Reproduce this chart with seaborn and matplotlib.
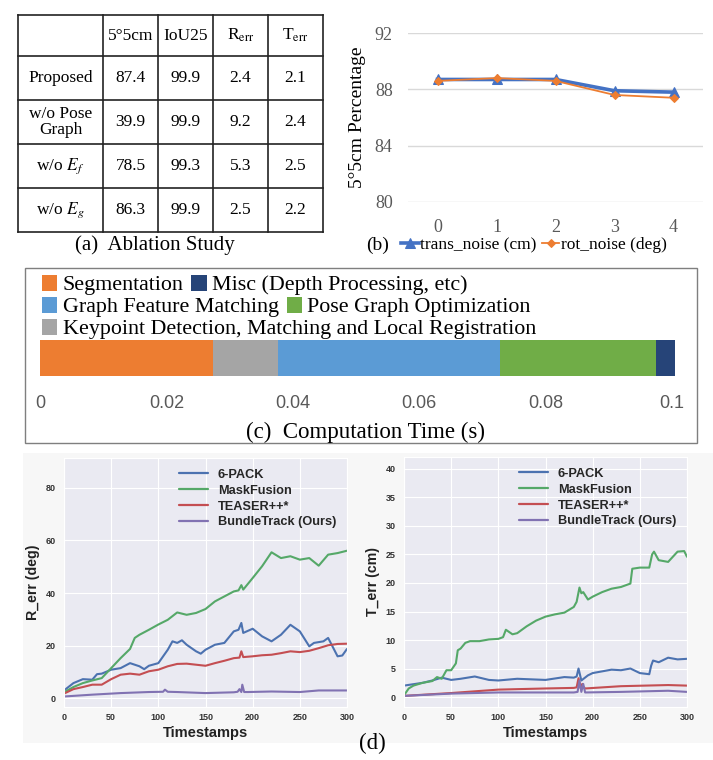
import pandas as pd
import seaborn as sns
import matplotlib.pyplot as plt
from matplotlib.patches import Rectangle, Patch
from matplotlib.lines import Line2D
from matplotlib.ticker import FuncFormatter

# (a) ablation table
table_cols = ["", "5°5cm", "IoU25", r"R$_{\rm err}$", r"T$_{\rm err}$"]
table_rows = ["Proposed", "w/o Pose\nGraph", r"w/o $E_f$", r"w/o $E_g$"]
table_vals = [["87.4", "99.9", "2.4", "2.1"],
              ["39.9", "99.9", "9.2", "2.4"],
              ["78.5", "99.3", "5.3", "2.5"],
              ["86.3", "99.9", "2.5", "2.2"]]

# (b) robustness to noise
noise_levels = [0, 1, 2, 3, 4]
trans_noise = [88.7, 88.7, 88.7, 87.9, 87.8]
rot_noise = [88.6, 88.8, 88.6, 87.6, 87.4]

# (c) computation time breakdown
stages = ["Segmentation", "Keypoint Detection, Matching and Local Registration",
          "Graph Feature Matching", "Pose Graph Optimization", "Misc (Depth Processing, etc)"]
stage_time = [0.0274, 0.0102, 0.0352, 0.0247, 0.0031]
stage_colors = ["#ED7D31", "#A5A5A5", "#5B9BD5", "#70AD47", "#264478"]
time_ticks = [0, 0.02, 0.04, 0.06, 0.08, 0.1]

# (d) tracking error over time
methods = ["6-PACK", "MaskFusion", "TEASER++*", "BundleTrack (Ours)"]
method_colors = ["#4C72B0", "#55A868", "#C44E52", "#8172B2"]

pack_r_t = [0, 10, 20, 30, 35, 40, 50, 60, 70, 80, 85, 90, 100, 110, 115, 120, 125, 130, 140, 145,
            150, 160, 170, 180, 185, 188, 190, 200, 210, 220, 230, 240, 250, 260, 265, 275, 280, 290, 295, 300]
pack_r = [2.9, 5.7, 7.2, 7.0, 9.1, 9.3, 10.8, 11.4, 13.3, 12.1, 11.0, 12.3, 13.3, 18.4, 21.6, 21.0, 22.0, 20.3, 17.8, 16.9,
          18.4, 20.3, 21.0, 25.4, 26.0, 28.6, 24.8, 26.4, 23.5, 21.6, 24.1, 27.9, 25.4, 19.7, 21.0, 21.6, 22.9, 15.9, 16.2, 18.7]
mf_r_t = [0, 10, 20, 30, 40, 45, 50, 60, 70, 75, 80, 90, 100, 110, 120, 130, 140, 150, 160, 170,
          180, 185, 188, 190, 200, 210, 220, 230, 240, 250, 260, 270, 280, 290, 300]
mf_r = [2.2, 4.2, 5.7, 6.7, 7.6, 9.5, 11.4, 15.2, 18.7, 22.9, 24.1, 26.0, 28.0, 29.8, 32.6, 31.7, 32.4, 33.9, 36.8, 38.7,
        40.6, 41.0, 43.0, 41.3, 45.7, 50.2, 55.5, 53.3, 54.0, 52.7, 53.3, 50.4, 54.6, 55.2, 56.1]
teaser_r_t = [0, 10, 20, 30, 40, 50, 60, 70, 80, 90, 100, 110, 120, 130, 140, 150, 160, 170, 180, 186, 188, 190,
              200, 210, 220, 230, 240, 250, 260, 270, 280, 290, 300]
teaser_r = [1.7, 3.4, 4.2, 5.1, 5.1, 7.2, 8.9, 9.3, 8.9, 10.2, 10.8, 12.1, 13.0, 13.1, 12.7, 12.3, 13.3, 14.2, 15.2, 15.4, 17.8, 15.6,
            15.9, 16.3, 16.5, 17.1, 17.8, 17.5, 18.0, 19.0, 20.1, 20.6, 20.7]
bt_r_t = [0, 30, 60, 90, 105, 107, 110, 120, 150, 180, 184, 186, 188, 189, 191, 195, 220, 250, 270, 300]
bt_r = [0.6, 1.3, 1.9, 2.3, 2.4, 3.2, 2.4, 2.3, 1.9, 2.2, 2.4, 3.4, 2.3, 5.1, 2.3, 2.3, 2.5, 2.3, 2.9, 2.9]

pack_t_t = [0, 20, 30, 40, 50, 60, 75, 90, 100, 120, 150, 170, 180, 183, 185, 188, 195, 200, 210, 220,
            230, 240, 250, 260, 262, 264, 270, 280, 290, 300]
pack_t = [2.0, 2.5, 2.9, 3.4, 3.0, 3.2, 3.6, 3.0, 2.9, 3.2, 3.0, 3.5, 3.4, 3.6, 5.0, 2.9, 3.8, 4.2, 4.5, 4.8,
          4.7, 5.0, 4.2, 4.0, 5.5, 6.4, 6.1, 6.9, 6.6, 6.7]
mf_t_t = [0, 5, 10, 20, 30, 35, 40, 45, 50, 55, 57, 60, 65, 70, 80, 90, 100, 105, 108, 115,
          120, 130, 140, 150, 160, 170, 180, 183, 186, 188, 190, 195, 200, 210, 220, 230, 240, 242, 250, 260,
          263, 265, 270, 280, 290, 297, 300]
mf_t = [0.3, 1.5, 2.0, 2.5, 2.8, 3.5, 3.2, 4.7, 4.7, 5.9, 8.2, 8.5, 9.5, 9.8, 9.8, 10.1, 10.2, 10.5, 11.8, 11.0,
        11.2, 12.4, 13.4, 14.1, 14.5, 14.8, 15.8, 16.7, 19.2, 18.2, 18.4, 17.1, 17.6, 18.4, 19.0, 19.3, 19.9, 22.5, 22.7, 22.7,
        25.0, 25.5, 24.0, 23.7, 25.5, 25.6, 24.6]
teaser_t_t = [0, 50, 100, 150, 180, 183, 185, 187, 189, 190, 192, 230, 280, 300]
teaser_t = [0.2, 0.7, 1.3, 1.5, 1.6, 1.7, 3.3, 1.6, 2.3, 1.8, 1.5, 1.9, 2.1, 2.0]
bt_t_t = [0, 50, 100, 180, 184, 186, 188, 190, 192, 230, 280, 300]
bt_t = [0.2, 0.6, 0.8, 0.8, 0.9, 2.9, 0.9, 2.3, 0.8, 0.9, 1.1, 0.9]

W, H = 713, 760
SERIF = "Liberation Serif"
SANS = "Liberation Sans"
plt.rcParams["font.family"] = SERIF
plt.rcParams["mathtext.fontset"] = "stix"


def box(l, t, r, b):
    # pixel box -> figure fraction
    return [l / W, 1 - b / H, (r - l) / W, (b - t) / H]


def fx(x):
    return x / W


def fy(y):
    return 1 - y / H


fig = plt.figure(figsize=(W / 100, H / 100), dpi=100)
fig.patch.set_facecolor("white")

# light backdrop behind the (d) plots
fig.add_artist(Rectangle((fx(23), fy(743)), (713 - 23) / W, (743 - 453) / H,
                         transform=fig.transFigure, facecolor="#F7F7F7", edgecolor="none", zorder=-10))

# ---------- (a) table ----------
ax_a = fig.add_axes(box(18, 15, 323, 232))
ax_a.set_xlim(18, 323)
ax_a.set_ylim(232, 15)
ax_a.axis("off")
col_edges = [18, 103, 158, 213, 268, 323]
row_edges = [15, 56, 100, 144, 188, 232]
for x in col_edges:
    ax_a.plot([x, x], [row_edges[0], row_edges[-1]], color="#222222", lw=1.2, clip_on=False)
for y in row_edges:
    ax_a.plot([col_edges[0], col_edges[-1]], [y, y], color="#222222", lw=1.2, clip_on=False)
grid_text = [table_cols] + [[r] + v for r, v in zip(table_rows, table_vals)]
for i, row in enumerate(grid_text):
    for j, txt in enumerate(row):
        cx = (col_edges[j] + col_edges[j + 1]) / 2
        cy = (row_edges[i] + row_edges[i + 1]) / 2
        ax_a.text(cx, cy, txt, ha="center", va="center", fontsize=12.5, linespacing=1.05)
fig.text(fx(155), fy(245), "(a)  Ablation Study", ha="center", va="center", fontsize=15)

# ---------- (b) noise line chart ----------
ax_b = fig.add_axes(box(408, 33, 703, 202))
sns.lineplot(x=noise_levels, y=trans_noise, ax=ax_b, color="#4472C4", lw=2.6, marker="^", ms=7.5,
             mec="#4472C4", label="trans_noise (cm)")
sns.lineplot(x=noise_levels, y=rot_noise, ax=ax_b, color="#ED7D31", lw=1.3, marker="D", ms=4.5,
             mec="#ED7D31", label="rot_noise (deg)")
ax_b.set_xlim(-0.5, 4.5)
ax_b.set_ylim(80, 92)
ax_b.set_yticks([80, 84, 88, 92])
ax_b.set_xticks(noise_levels)
ax_b.yaxis.grid(True, color="#D9D9D9", lw=1)
ax_b.set_axisbelow(True)
for s in ax_b.spines.values():
    s.set_visible(False)
ax_b.tick_params(length=0, labelsize=13, labelcolor="#595959")
ax_b.tick_params(axis="y", pad=11)
ax_b.tick_params(axis="x", pad=12)
ax_b.set_ylabel("5°5cm Percentage", fontsize=14, labelpad=6)
handles_b, labels_b = ax_b.get_legend_handles_labels()
ax_b.legend_.remove()
fig.legend(handles_b, labels_b, loc="center", bbox_to_anchor=(fx(534), fy(245)), ncol=2, frameon=False,
           prop={"family": SERIF, "size": 12.5}, handlelength=1.0, handletextpad=0.1, columnspacing=0.3,
           borderpad=0, borderaxespad=0)
fig.text(fx(378), fy(245), "(b)", ha="center", va="center", fontsize=14)

# ---------- (c) computation time ----------
fig.add_artist(Rectangle((fx(25), fy(443)), (697 - 25) / W, (443 - 268) / H, transform=fig.transFigure,
                         fill=False, edgecolor="#7F7F7F", lw=1))
ax_c = fig.add_axes(box(40, 340, 678, 376))
left = 0
for val, col in zip(stage_time, stage_colors):
    ax_c.barh(0, val, left=left, height=1, color=col, edgecolor="none")
    left += val
ax_c.set_xlim(0, 0.101)
ax_c.set_ylim(-0.5, 0.5)
ax_c.set_yticks([])
ax_c.set_xticks(time_ticks)
ax_c.xaxis.set_major_formatter(FuncFormatter(lambda v, p: f"{v:g}"))
for s in ax_c.spines.values():
    s.set_visible(False)
ax_c.tick_params(length=0, pad=14, labelsize=13, labelcolor="#595959")
for lab in ax_c.get_xticklabels():
    lab.set_family(SANS)

legend_rows = [(["Segmentation", "Misc (Depth Processing, etc)"], 285),
               (["Graph Feature Matching", "Pose Graph Optimization"], 307),
               (["Keypoint Detection, Matching and Local Registration"], 329)]
for names, ypix in legend_rows:
    hs = [Patch(facecolor=stage_colors[stages.index(n)], edgecolor="none") for n in names]
    fig.legend(hs, names, loc="center left", bbox_to_anchor=(fx(42), fy(ypix)), ncol=len(names),
               frameon=False, prop={"family": SERIF, "size": 15.8}, handlelength=0.7, handleheight=0.75,
               handletextpad=0.25, columnspacing=0.35, borderpad=0, borderaxespad=0)
fig.text(fx(365), fy(432), "(c)  Computation Time (s)", ha="center", va="center", fontsize=16.5)

# ---------- (d) error curves ----------
left_series = [(pack_r_t, pack_r), (mf_r_t, mf_r), (teaser_r_t, teaser_r), (bt_r_t, bt_r)]
right_series = [(pack_t_t, pack_t), (mf_t_t, mf_t), (teaser_t_t, teaser_t), (bt_t_t, bt_t)]
panels = [(box(64, 458, 347, 707), left_series, "R_err (deg)", (-3.4, 91.4), [0, 20, 40, 60, 80]),
          (box(404, 457, 687, 707), right_series, "T_err (cm)", (-1.75, 42.1), [0, 5, 10, 15, 20, 25, 30, 35, 40])]

with sns.axes_style("darkgrid"):
    for rect, series, ylab, ylim, yticks in panels:
        ax = fig.add_axes(rect)
        frames = []
        for name, (t, v) in zip(methods, series):
            frames.append(pd.DataFrame({"t": t, "v": v, "method": name}))
        df = pd.concat(frames, ignore_index=True)
        sns.lineplot(data=df, x="t", y="v", hue="method", hue_order=methods, palette=method_colors,
                     estimator=None, lw=1.5, ax=ax, legend=False)
        ax.set_xlim(0, 300)
        ax.set_ylim(*ylim)
        ax.set_xticks([0, 50, 100, 150, 200, 250, 300])
        ax.set_yticks(yticks)
        ax.tick_params(length=0, labelsize=6.5, labelcolor="#333333")
        ax.tick_params(axis="y", pad=6)
        ax.tick_params(axis="x", pad=4)
        for lab in ax.get_xticklabels() + ax.get_yticklabels():
            lab.set_family(SANS)
            lab.set_weight("bold")
        ax.set_xlabel("Timestamps", family=SANS, weight="bold", fontsize=10.5, color="#222222", labelpad=3)
        ax.set_ylabel(ylab, family=SANS, weight="bold", fontsize=10.2, color="#222222", labelpad=4)
        hs = [Line2D([], [], color=c, lw=1.6) for c in method_colors]
        ax.legend(hs, methods, loc="upper right", frameon=False, handlelength=2.2,
                  prop={"family": SANS, "weight": "bold", "size": 9.2}, labelspacing=0.3,
                  borderaxespad=0.45, handletextpad=0.8)

fig.text(fx(372), fy(743), "(d)", ha="center", va="center", fontsize=16.5)

fig.savefig("out.png", dpi=100, facecolor=fig.get_facecolor())
